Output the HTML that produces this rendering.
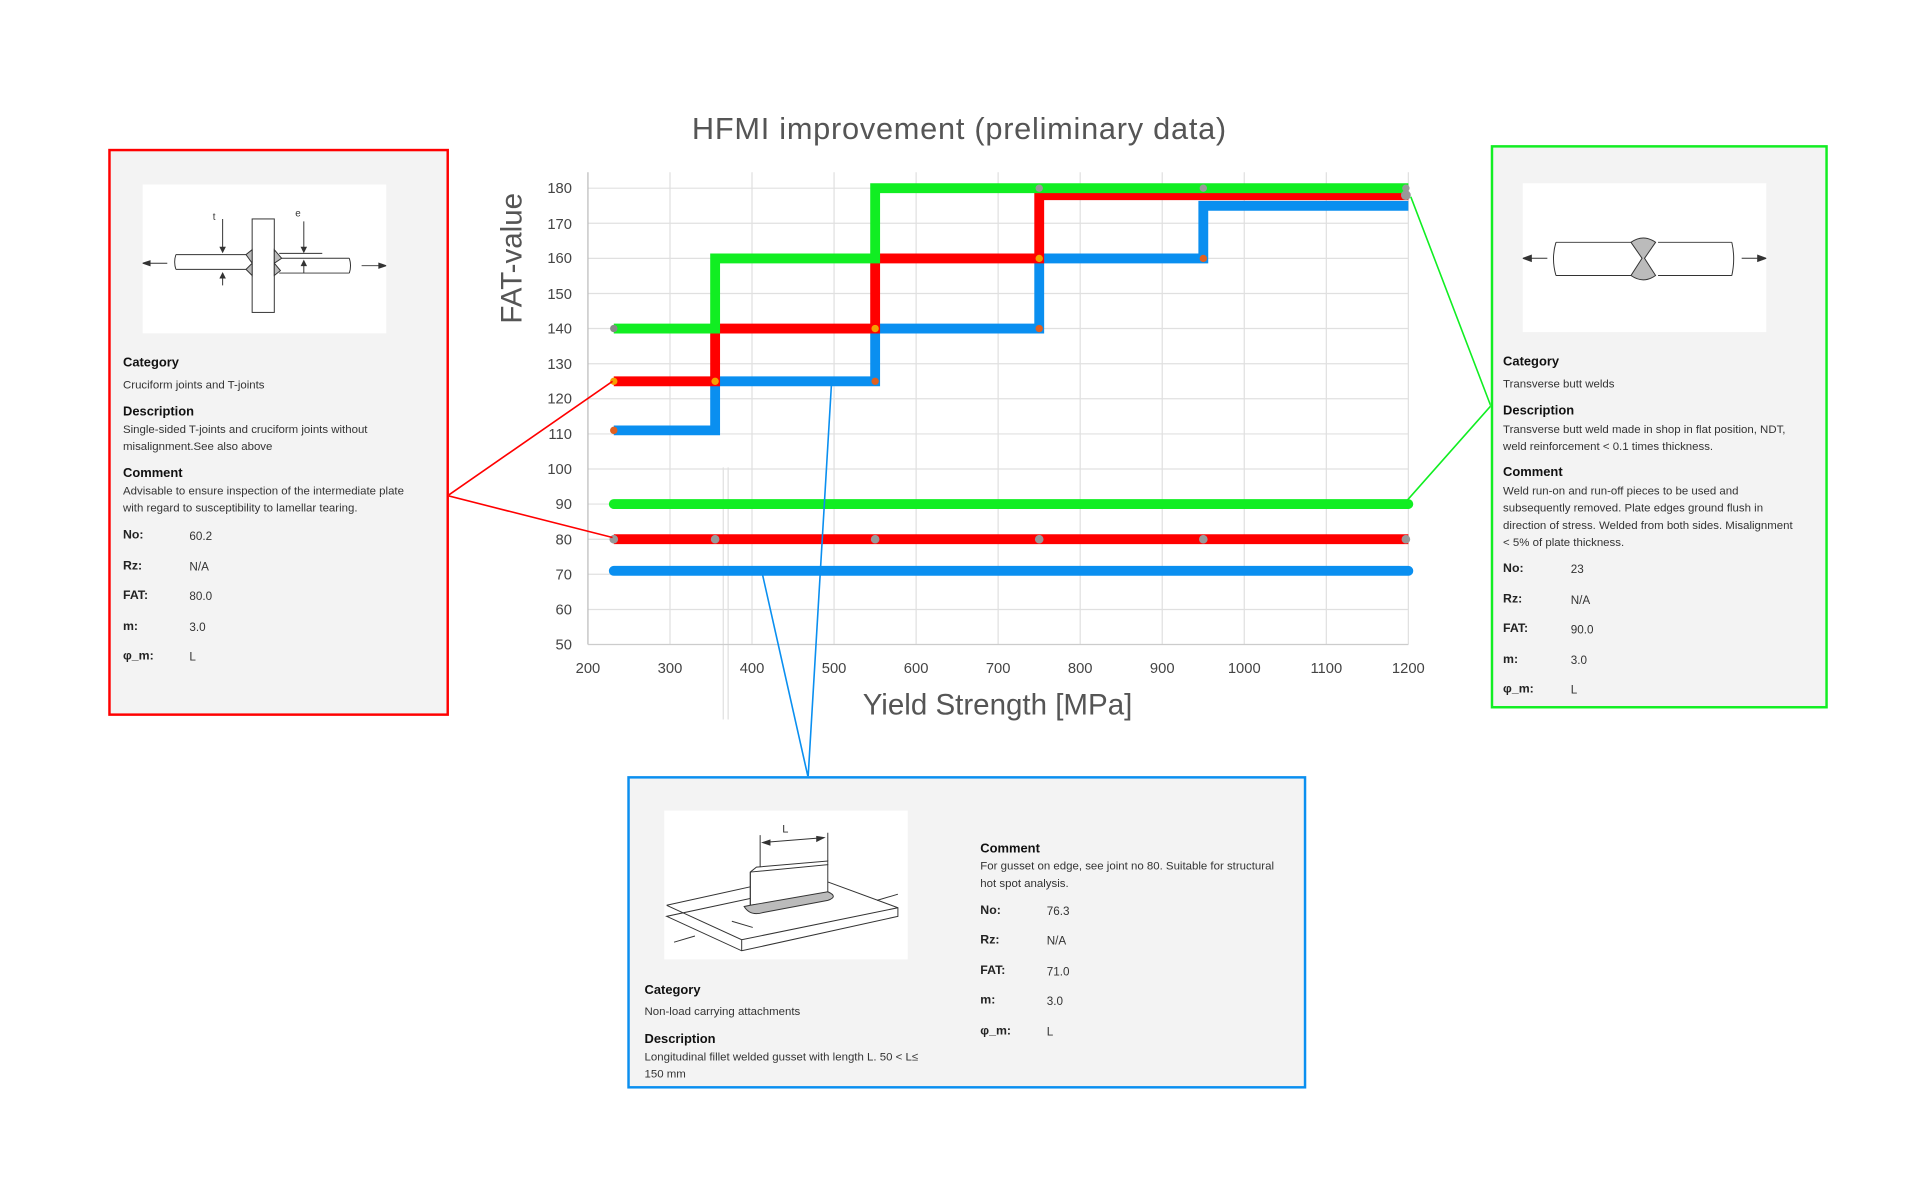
<!DOCTYPE html>
<html><head><meta charset="utf-8">
<style>
html,body{margin:0;padding:0;background:#fff;width:1928px;height:1192px;overflow:hidden}
#w{position:absolute;left:0;top:0;width:1568px;height:970px;transform:scale(1.2300);transform-origin:0 0;font-family:"Liberation Sans",sans-serif}
.box{position:absolute;background:#f3f3f3;box-sizing:border-box}
.t{position:absolute;font-size:9.3px;color:#333;line-height:14px;white-space:nowrap}
.h{position:absolute;font-size:10.5px;font-weight:bold;color:#111;white-space:nowrap}
.k{position:absolute;font-size:10px;font-weight:bold;color:#222}
.v{position:absolute;font-size:9.5px;color:#333}
.img{position:absolute;background:#fff}
</style></head><body><div id="w">

<svg width="1568" height="970" style="position:absolute;left:0;top:0">
<text x="780" y="113" text-anchor="middle" font-size="25" letter-spacing="0.6" fill="#555" font-family="Liberation Sans, sans-serif">HFMI improvement (preliminary data)</text>
<g stroke="#e0e0e0" stroke-width="1">
<line x1="478" y1="495.5" x2="1145" y2="495.5"/><line x1="478" y1="466.9" x2="1145" y2="466.9"/><line x1="478" y1="438.4" x2="1145" y2="438.4"/><line x1="478" y1="409.8" x2="1145" y2="409.8"/><line x1="478" y1="381.3" x2="1145" y2="381.3"/><line x1="478" y1="352.8" x2="1145" y2="352.8"/><line x1="478" y1="324.2" x2="1145" y2="324.2"/><line x1="478" y1="295.7" x2="1145" y2="295.7"/><line x1="478" y1="267.1" x2="1145" y2="267.1"/><line x1="478" y1="238.6" x2="1145" y2="238.6"/><line x1="478" y1="210.1" x2="1145" y2="210.1"/><line x1="478" y1="181.5" x2="1145" y2="181.5"/><line x1="478" y1="153" x2="1145" y2="153"/>
<line x1="544.7" y1="140" x2="544.7" y2="524"/><line x1="611.4" y1="140" x2="611.4" y2="524"/><line x1="678.1" y1="140" x2="678.1" y2="524"/><line x1="744.8" y1="140" x2="744.8" y2="524"/><line x1="811.5" y1="140" x2="811.5" y2="524"/><line x1="878.2" y1="140" x2="878.2" y2="524"/><line x1="944.9" y1="140" x2="944.9" y2="524"/><line x1="1011.6" y1="140" x2="1011.6" y2="524"/><line x1="1078.3" y1="140" x2="1078.3" y2="524"/><line x1="1145" y1="140" x2="1145" y2="524"/>
<line x1="592" y1="380" x2="592" y2="585"/><line x1="588" y1="380" x2="588" y2="585"/>
</g>
<line x1="478" y1="140" x2="478" y2="524" stroke="#bbb"/>
<line x1="478" y1="524" x2="1145" y2="524" stroke="#ccc"/>
<g font-size="12" fill="#444" text-anchor="end" font-family="Liberation Sans, sans-serif">
<text x="465" y="528">50</text><text x="465" y="499.5">60</text><text x="465" y="471">70</text><text x="465" y="442.5">80</text><text x="465" y="414">90</text><text x="465" y="385.5">100</text><text x="465" y="357">110</text><text x="465" y="328">120</text><text x="465" y="300">130</text><text x="465" y="271">140</text><text x="465" y="243">150</text><text x="465" y="214">160</text><text x="465" y="186">170</text><text x="465" y="157">180</text>
</g>
<g font-size="12" fill="#444" text-anchor="middle" font-family="Liberation Sans, sans-serif">
<text x="478" y="547">200</text><text x="544.7" y="547">300</text><text x="611.4" y="547">400</text><text x="678.1" y="547">500</text><text x="744.8" y="547">600</text><text x="811.5" y="547">700</text><text x="878.2" y="547">800</text><text x="944.9" y="547">900</text><text x="1011.6" y="547">1000</text><text x="1078.3" y="547">1100</text><text x="1145" y="547">1200</text>
</g>
<text x="0" y="0" transform="translate(424,210) rotate(-90)" text-anchor="middle" font-size="24" fill="#555" font-family="Liberation Sans, sans-serif">FAT-value</text>
<text x="811" y="581" text-anchor="middle" font-size="24" fill="#555" font-family="Liberation Sans, sans-serif">Yield Strength [MPa]</text>

<g fill="none" stroke-width="8" stroke-linejoin="miter">
<polyline stroke="#0a8ff0" points="499,464.1 1145,464.1" stroke-linecap="round"/>
<polyline stroke="#ff0000" points="499,438.4 1145,438.4"/>
<polyline stroke="#11ee22" points="499,409.8 1145,409.8" stroke-linecap="round"/>
<polyline stroke="#0a8ff0" points="499,349.9 581.4,349.9 581.4,310 711.5,310 711.5,267.1 844.9,267.1 844.9,210.1 978.3,210.1 978.3,167.3 1145,167.3"/>
<polyline stroke="#ff0000" points="499,310 581.4,310 581.4,267.1 711.5,267.1 711.5,210.1 844.9,210.1 844.9,158.7 1145,158.7"/>
<polyline stroke="#11ee22" points="499,267.1 581.4,267.1 581.4,210.1 711.5,210.1 711.5,153 1145,153"/>
</g>
<g>
<circle cx="499" cy="310" r="3" fill="#f5a000"/><circle cx="499" cy="349.9" r="3" fill="#e06020"/><circle cx="499" cy="267.1" r="3" fill="#888"/>
<circle cx="581.4" cy="310" r="3" fill="#f5a000"/><circle cx="711.5" cy="267.1" r="3" fill="#f5a000"/><circle cx="844.9" cy="210.1" r="3" fill="#f5a000"/>
<circle cx="844.9" cy="267.1" r="3" fill="#e06020"/><circle cx="978.3" cy="210.1" r="3" fill="#e06020"/><circle cx="711.5" cy="310" r="3" fill="#e06020"/>
<circle cx="499" cy="438.4" r="3.5" fill="#999"/><circle cx="581.4" cy="438.4" r="3.5" fill="#999"/><circle cx="711.5" cy="438.4" r="3.5" fill="#999"/><circle cx="844.9" cy="438.4" r="3.5" fill="#999"/><circle cx="978.3" cy="438.4" r="3.5" fill="#999"/><circle cx="1143" cy="438.4" r="3.5" fill="#999"/>
<circle cx="844.9" cy="153" r="3" fill="#999"/><circle cx="978.3" cy="153" r="3" fill="#999"/><circle cx="1143" cy="153" r="3" fill="#999"/><circle cx="1143" cy="158.7" r="4" fill="#999"/>
</g>
<g fill="none" stroke-width="1.3">
<polyline stroke="#ff0000" points="498,310 364,403 498,437"/>
<polyline stroke="#11ee22" points="1147,160 1212,330 1143,408"/>
<polyline stroke="#0a8ff0" points="676,312 657,632 619,463"/>
</g>
</svg>

<div class="box" style="left:88px;top:121px;width:277px;height:461px;border:2px solid #ff0000"></div>
<div class="img" style="left:116px;top:150px;width:198px;height:121px">
<svg width="198" height="121" fill="none" stroke="#333" stroke-width="0.8">
<rect x="89" y="28" width="18" height="76" fill="#fff"/>
<path d="M27 57 H85 M27 69 H85 M27 57 Q25 63 27 69"/>
<path d="M111 60 H168 M111 72 H168 M168 60 Q170 66 168 72"/>
<path d="M89 53 L84 57 L89 64 Z M89 64 L84 69 L89 74 Z M107 53 L113 60 L107 64 Z M107 64 L112 70 L107 74 Z" fill="#bbb"/>
<path d="M20 64 H0 M197 66 H178"/><path d="M0 64 l6 -2 v4 z M198 66 l-6 -2 v4 z" fill="#333"/>
<path d="M65 28 V55 M65 72 V82 M131 30 V55 M131 72 V62 M111 56 H146"/>
<path d="M63 51 l2 4 l2 -4z M63 76 l2 -4 l2 4z M129 51 l2 4 l2 -4z M129 66 l2 -4 l2 4z" fill="#333"/>
<text x="57" y="29" font-size="8" fill="#333" stroke="none" font-family="Liberation Sans">t</text>
<text x="124" y="26" font-size="8" fill="#333" stroke="none" font-family="Liberation Sans">e</text>
</svg></div>
<div class="h" style="left:100px;top:289px">Category</div>
<div class="t" style="left:100px;top:306px">Cruciform joints and T-joints</div>
<div class="h" style="left:100px;top:329px">Description</div>
<div class="t" style="left:100px;top:342px">Single-sided T-joints and cruciform joints without<br>misalignment.See also above</div>
<div class="h" style="left:100px;top:379px">Comment</div>
<div class="t" style="left:100px;top:392px">Advisable to ensure inspection of the intermediate plate<br>with regard to susceptibility to lamellar tearing.</div>
<div class="k" style="left:100px;top:430px">No:</div><div class="v" style="left:154px;top:431px">60.2</div>
<div class="k" style="left:100px;top:455px">Rz:</div><div class="v" style="left:154px;top:456px">N/A</div>
<div class="k" style="left:100px;top:479px">FAT:</div><div class="v" style="left:154px;top:480px">80.0</div>
<div class="k" style="left:100px;top:504px">m:</div><div class="v" style="left:154px;top:505px">3.0</div>
<div class="k" style="left:100px;top:528px">φ_m:</div><div class="v" style="left:154px;top:529px">L</div>

<div class="box" style="left:1212px;top:118px;width:274px;height:458px;border:2px solid #11ee22"></div>
<div class="img" style="left:1238px;top:149px;width:198px;height:121px">
<svg width="198" height="121" fill="none" stroke="#333" stroke-width="0.8">
<path d="M27 48 H95 M27 75 H95 M27 48 Q23 61 27 75 M110 48 H170 M110 75 H170 M170 48 Q173 61 170 75"/>
<path d="M88 48 Q98 41 108 48 L99 61 L108 75 Q98 82 88 75 L97 61 Z" fill="#bbb"/>
<path d="M20 61 H2 M178 61 H196"/><path d="M0 61 l7 -2.5 v5z M198 61 l-7 -2.5 v5z" fill="#333"/>
</svg></div>
<div class="h" style="left:1222px;top:288px">Category</div>
<div class="t" style="left:1222px;top:305px">Transverse butt welds</div>
<div class="h" style="left:1222px;top:328px">Description</div>
<div class="t" style="left:1222px;top:342px">Transverse butt weld made in shop in flat position, NDT,<br>weld reinforcement &lt; 0.1 times thickness.</div>
<div class="h" style="left:1222px;top:378px">Comment</div>
<div class="t" style="left:1222px;top:392px">Weld run-on and run-off pieces to be used and<br>subsequently removed. Plate edges ground flush in<br>direction of stress. Welded from both sides. Misalignment<br>&lt; 5% of plate thickness.</div>
<div class="k" style="left:1222px;top:457px">No:</div><div class="v" style="left:1277px;top:458px">23</div>
<div class="k" style="left:1222px;top:482px">Rz:</div><div class="v" style="left:1277px;top:483px">N/A</div>
<div class="k" style="left:1222px;top:506px">FAT:</div><div class="v" style="left:1277px;top:507px">90.0</div>
<div class="k" style="left:1222px;top:531px">m:</div><div class="v" style="left:1277px;top:532px">3.0</div>
<div class="k" style="left:1222px;top:555px">φ_m:</div><div class="v" style="left:1277px;top:556px">L</div>

<div class="box" style="left:510px;top:631px;width:552px;height:254px;border:2px solid #0a8ff0"></div>
<div class="img" style="left:540px;top:659px;width:198px;height:121px">
<svg width="198" height="121" fill="none" stroke="#333" stroke-width="0.8">
<path d="M2 77 L70 62 M133 58 L190 79 L190 86 L63 114 L2 86 Z M2 77 L63 105 L190 79 M63 105 V114" fill="#fff"/>
<path d="M70 50 L133 44 L133 68 L70 77 Z" fill="#fff"/>
<path d="M70 50 L75 46 L133 41 L133 44 M70 50 V77"/>
<path d="M65 78 Q70 86 80 83 L133 73 Q142 70 133 66 L70 77 Z" fill="#bbb"/>
<path d="M78 46 V20 M133 41 V18 M80 26 L130 22"/>
<path d="M80 26 l6 -2 v4z M130 22 l-6 -1 v4z" fill="#333"/>
<text x="96" y="18" font-size="9" fill="#333" stroke="none" font-family="Liberation Sans">L</text>
<path d="M8 107 L25 102 M173 73 L190 68 M55 90 L72 95"/>
</svg></div>
<div class="h" style="left:524px;top:799px">Category</div>
<div class="t" style="left:524px;top:815px">Non-load carrying attachments</div>
<div class="h" style="left:524px;top:839px">Description</div>
<div class="t" style="left:524px;top:852px">Longitudinal fillet welded gusset with length L. 50 &lt; L≤<br>150 mm</div>
<div class="h" style="left:797px;top:684px">Comment</div>
<div class="t" style="left:797px;top:697px">For gusset on edge, see joint no 80. Suitable for structural<br>hot spot analysis.</div>
<div class="k" style="left:797px;top:735px">No:</div><div class="v" style="left:851px;top:736px">76.3</div>
<div class="k" style="left:797px;top:759px">Rz:</div><div class="v" style="left:851px;top:760px">N/A</div>
<div class="k" style="left:797px;top:784px">FAT:</div><div class="v" style="left:851px;top:785px">71.0</div>
<div class="k" style="left:797px;top:808px">m:</div><div class="v" style="left:851px;top:809px">3.0</div>
<div class="k" style="left:797px;top:833px">φ_m:</div><div class="v" style="left:851px;top:834px">L</div>

</div></body></html>
